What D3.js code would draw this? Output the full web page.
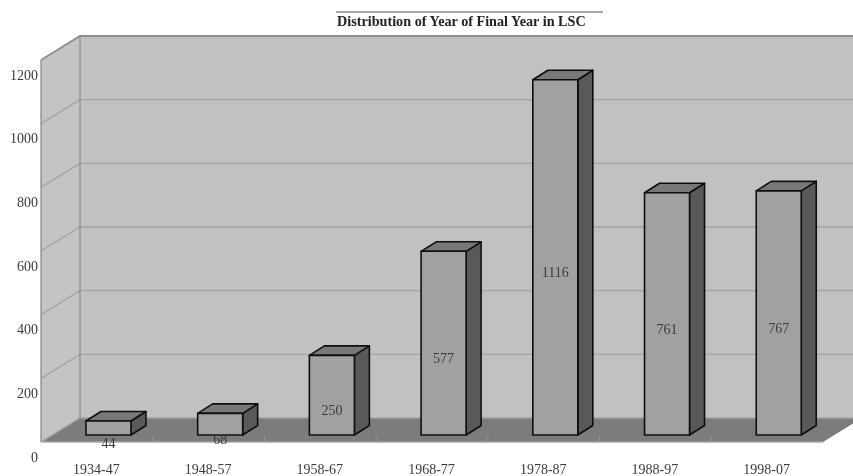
<!DOCTYPE html>
<html>
<head>
<meta charset="utf-8">
<script src="https://d3js.org/d3.v7.min.js"></script>
<style>
html, body { margin: 0; padding: 0; background: #fff; }
svg { display: block; }
text { font-family: "Liberation Serif", serif; fill: #3a3a3a; }
</style>
</head>
<body>
<div id="chart"></div>
<script>
var categories = ['1934-47', '1948-57', '1958-67', '1968-77', '1978-87', '1988-97', '1998-07'];
var values = [44, 68, 250, 577, 1116, 761, 767];
var y_ticks = [0, 200, 400, 600, 800, 1000, 1200];

var chart_width = 853, chart_height = 476;

var svg = d3.select('#chart')
            .append('svg')
            .attr('width', chart_width)
            .attr('height', chart_height);

var defs = svg.append('defs');
defs.append('filter').attr('id', 'soft')
    .attr('x', '-5%').attr('y', '-5%').attr('width', '110%').attr('height', '110%')
    .append('feGaussianBlur').attr('stdDeviation', 0.55);

var root = svg.append('g').attr('filter', 'url(#soft)');

//Scales are for the front edge of the floor, the back wall is shifted by the depth
var x_scale = d3.scaleBand().domain(categories).range([41, 823]);
var y_scale = d3.scaleLinear().domain([0, 1200]).range([442, 60]);
var depth_x = 39, depth_y = -24;
var bar_w = 45, bar_dx = 15, bar_dy = -9.5;
var bar_base = 435;
var h_scale = d3.scaleLinear().domain([0, 1200]).range([0, 382]);

function poly(pts) {
    return pts.map((p) => p.join(',')).join(' ');
}

var x0 = x_scale.range()[0], x1 = x_scale.range()[1];
var y0 = y_scale(0), y_top = y_scale(1200);

//Walls and floor
root.append('polygon')
    .attr('points', poly([[x0 + depth_x, y_top + depth_y], [chart_width + 4, y_top + depth_y], [chart_width + 4, y0 + depth_y], [x0 + depth_x, y0 + depth_y]]))
    .attr('fill', '#c0c2c1');
root.append('polygon')
    .attr('points', poly([[x0, y_top], [x0 + depth_x, y_top + depth_y], [x0 + depth_x, y0 + depth_y], [x0, y0]]))
    .attr('fill', '#c3c5c4');
root.append('polygon')
    .attr('points', poly([[x0, y0], [x0 + depth_x, y0 + depth_y], [x1 + depth_x, y0 + depth_y], [x1, y0]]))
    .attr('fill', '#7b7b7b');

//Gridlines
y_ticks.forEach((t) => {
    var y = y_scale(t);
    root.append('polyline')
        .attr('points', poly([[x0, y], [x0 + depth_x, y + depth_y], [chart_width + 4, y + depth_y]]))
        .attr('fill', 'none')
        .attr('stroke', t == 1200 ? '#8e8e8e' : '#a2a3a3')
        .attr('stroke-width', t == 1200 ? 1.8 : 1.3);
});
root.append('line')
    .attr('x1', x0).attr('y1', y_top).attr('x2', x0).attr('y2', y0)
    .attr('stroke', '#8a8a8a').attr('stroke-width', 1.3);
root.append('line')
    .attr('x1', x0 + depth_x).attr('y1', y_top + depth_y).attr('x2', x0 + depth_x).attr('y2', y0 + depth_y)
    .attr('stroke', '#8e8e8e').attr('stroke-width', 1.3);

//Front floor edge and category ticks
root.append('line')
    .attr('x1', x0).attr('y1', y0).attr('x2', x1).attr('y2', y0)
    .attr('stroke', '#a8a8a8').attr('stroke-width', 1.3);
root.selectAll('.cat-tick')
    .data(categories.slice(1))
    .enter()
    .append('line')
    .attr('class', 'cat-tick')
    .attr('x1', (d) => x_scale(d)).attr('x2', (d) => x_scale(d))
    .attr('y1', y0 - 6).attr('y2', y0)
    .attr('stroke', '#969696').attr('stroke-width', 1);

//Bars
function bar_left(d, i) {
    return x_scale(categories[i]) + x_scale.bandwidth() / 2 + 11.6 - bar_w / 2;
}
var bars = root.selectAll('.bar')
    .data(values)
    .enter()
    .append('g')
    .attr('class', 'bar')
    .attr('stroke', '#101010')
    .attr('stroke-width', 1.6)
    .attr('stroke-linejoin', 'round');

bars.append('polygon')
    .attr('fill', '#5a5858')
    .attr('points', (d, i) => {
        var l = bar_left(d, i) + bar_w, t = bar_base - h_scale(d);
        return poly([[l, bar_base], [l + bar_dx, bar_base + bar_dy], [l + bar_dx, t + bar_dy], [l, t]]);
    });
bars.append('polygon')
    .attr('fill', '#787878')
    .attr('points', (d, i) => {
        var l = bar_left(d, i), t = bar_base - h_scale(d);
        return poly([[l, t], [l + bar_dx, t + bar_dy], [l + bar_w + bar_dx, t + bar_dy], [l + bar_w, t]]);
    });
bars.append('rect')
    .attr('fill', '#a0a2a1')
    .attr('x', (d, i) => bar_left(d, i))
    .attr('y', (d) => bar_base - h_scale(d))
    .attr('width', bar_w)
    .attr('height', (d) => h_scale(d));

//Value labels sit a bit below the middle of each bar
root.selectAll('.val')
    .data(values)
    .enter()
    .append('text')
    .attr('class', 'val')
    .text((d) => d)
    .attr('x', (d, i) => bar_left(d, i) + bar_w / 2)
    .attr('y', (d) => bar_base - h_scale(d) / 2 + 20)
    .attr('text-anchor', 'middle')
    .attr('font-size', 14);

//Y labels
root.selectAll('.y-label')
    .data(y_ticks)
    .enter()
    .append('text')
    .attr('class', 'y-label')
    .text((d) => d)
    .attr('x', 38)
    .attr('y', (d) => y_scale(d) + 19.5)
    .attr('text-anchor', 'end')
    .attr('font-size', 14);

//X labels
root.selectAll('.x-label')
    .data(categories)
    .enter()
    .append('text')
    .attr('class', 'x-label')
    .text((d) => d)
    .attr('x', (d) => x_scale(d) + x_scale.bandwidth() / 2 - 0.5)
    .attr('y', 474)
    .attr('text-anchor', 'middle')
    .attr('font-size', 14);

//Title
root.append('line')
    .attr('x1', 336).attr('x2', 603).attr('y1', 12).attr('y2', 12)
    .attr('stroke', '#8a8a8a').attr('stroke-width', 1.5);
root.append('text')
    .text('Distribution of Year of Final Year in LSC')
    .attr('x', 337)
    .attr('y', 26)
    .attr('font-size', 14.2)
    .attr('font-weight', 'bold')
    .style('fill', '#222');
</script>
</body>
</html>
